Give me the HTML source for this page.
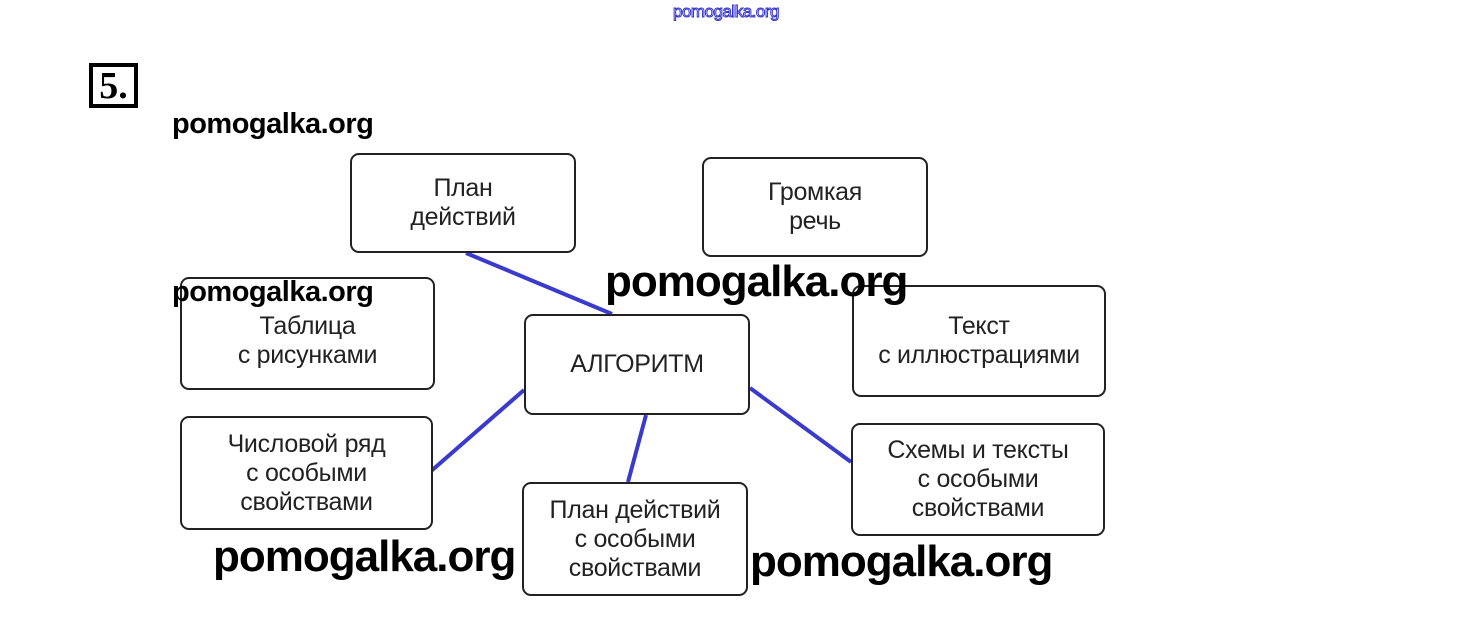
<!DOCTYPE html>
<html><head><meta charset="utf-8"><style>
body{margin:0;width:1460px;height:626px;background:#fff;position:relative;overflow:hidden;font-family:"Liberation Sans",sans-serif}
.b{position:absolute;border:2px solid #222;border-radius:9px;box-sizing:border-box;display:flex;align-items:center;justify-content:center;text-align:center;font-size:25px;line-height:29px;color:#222;background:#fff;letter-spacing:-0.3px}
.w{position:absolute;font-weight:bold;color:#000;white-space:nowrap;letter-spacing:-0.5px}
</style></head><body>
<div style="position:absolute;left:673px;top:2px;font-size:17px;color:#fff;-webkit-text-stroke:1px #3333cc;letter-spacing:-0.5px">pomogalka.org</div>
<div style="position:absolute;left:89px;top:63px;width:49px;height:45px;border:4px solid #000;box-sizing:border-box;font-family:'Liberation Serif',serif;font-weight:bold;font-size:38px;line-height:38px;text-align:center">5.</div>
<svg width="1460" height="626" style="position:absolute;left:0;top:0">
<g stroke="#3a3acc" stroke-width="4">
<line x1="466" y1="253" x2="612" y2="314"/>
<line x1="524" y1="390" x2="430" y2="472"/>
<line x1="646" y1="415" x2="628" y2="482"/>
<line x1="750" y1="388" x2="851" y2="462"/>
</g></svg>
<div class="b" style="left:350px;top:153px;width:226px;height:100px">План<br>действий</div>
<div class="b" style="left:702px;top:157px;width:226px;height:100px">Громкая<br>речь</div>
<div class="b" style="left:180px;top:277px;width:255px;height:113px;padding-top:14px">Таблица<br>с рисунками</div>
<div class="b" style="left:524px;top:314px;width:226px;height:101px">АЛГОРИТМ</div>
<div class="b" style="left:852px;top:285px;width:254px;height:112px">Текст<br>с иллюстрациями</div>
<div class="b" style="left:180px;top:416px;width:253px;height:114px">Числовой ряд<br>с особыми<br>свойствами</div>
<div class="b" style="left:522px;top:482px;width:226px;height:114px">План действий<br>с особыми<br>свойствами</div>
<div class="b" style="left:851px;top:423px;width:254px;height:113px">Схемы и тексты<br>с особыми<br>свойствами</div>
<div class="w" style="left:172px;top:108px;font-size:29px">pomogalka.org</div>
<div class="w" style="left:172px;top:276px;font-size:29px">pomogalka.org</div>
<div class="w" style="left:605px;top:257px;font-size:44px;letter-spacing:-1px">pomogalka.org</div>
<div class="w" style="left:213px;top:532px;font-size:44px;letter-spacing:-1px">pomogalka.org</div>
<div class="w" style="left:750px;top:537px;font-size:44px;letter-spacing:-1px">pomogalka.org</div>
</body></html>
